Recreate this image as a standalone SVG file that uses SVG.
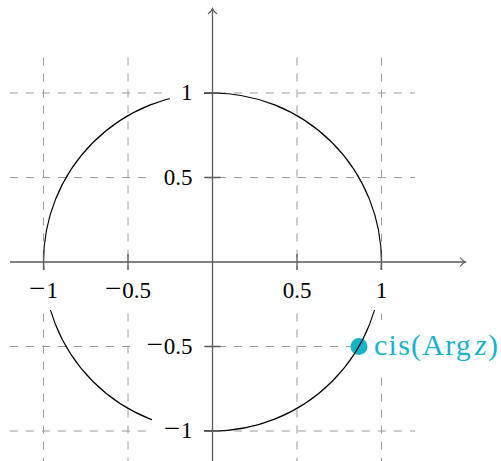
<svg xmlns="http://www.w3.org/2000/svg" width="501" height="461" viewBox="0 0 501 461">
<defs>
<style>
.grid{stroke:#9a9a9a;stroke-width:1;stroke-dasharray:8 8;fill:none}
.axis{stroke:#5a5a5a;stroke-width:1.3;fill:none}
.tick{stroke:#5a5a5a;stroke-width:1.3}
.curve{stroke:#000;stroke-width:1.1;fill:none}
.bg{fill:#fff}
.lbl{fill:#000;font-family:'Liberation Serif','Times New Roman',serif;font-size:23px}
.mn{font-size:29px}
.pt{fill:#17B3CB;font-family:'Liberation Serif','Times New Roman',serif;font-size:30px}
</style>
<marker id="arr" viewBox="-7 -6 9 12" markerWidth="9" markerHeight="12" refX="0" refY="0" orient="auto" markerUnits="userSpaceOnUse">
<path d="M -5.5 -4.5 C -3.5 -2 -1.5 -0.6 0 0 C -1.5 0.6 -3.5 2 -5.5 4.5" stroke="#5a5a5a" stroke-width="1.2" fill="none"/>
</marker>
</defs>
<rect width="501" height="461" fill="#fff"/>
<g id="grid">
<path class="grid" d="M10 93H415M10 177.5H415M10 346.5H415M10 431H415"/>
<path class="grid" d="M43.5 57.5V470M128 57.5V470M297 57.5V470M381.5 57.5V470"/>
</g>
<g id="point-label-bg">
<rect class="bg" x="364" y="320" width="137" height="50"/>
</g>
<g id="point">
<circle cx="359" cy="346.5" r="8.5" fill="#17B3CB"/>
</g>
<g id="unit-circle">
<circle class="curve" cx="212.5" cy="262" r="169"/>
</g>
<g id="y-labels">
<rect class="bg" x="170" y="80" width="34" height="26"/>
<text class="lbl" x="192.5" y="100" text-anchor="end">1</text>
<rect class="bg" x="151" y="164.5" width="53" height="26"/>
<text class="lbl" x="192.5" y="184.8" text-anchor="end">0.5</text>
<rect class="bg" x="134" y="333.5" width="70" height="26"/>
<text class="lbl" x="192.5" y="353.8" text-anchor="end"><tspan class="mn">−</tspan><tspan dx="1">0.5</tspan></text>
<rect class="bg" x="152" y="418" width="52" height="26"/>
<text class="lbl" x="192.5" y="438.3" text-anchor="end"><tspan class="mn">−</tspan><tspan dx="1">1</tspan></text>
</g>
<g id="x-labels">
<rect class="bg" x="18" y="270" width="52" height="40"/>
<text class="lbl" x="43.5" y="298" text-anchor="middle"><tspan class="mn">−</tspan><tspan dx="1">1</tspan></text>
<rect class="bg" x="93" y="270" width="70" height="40"/>
<text class="lbl" x="128" y="298" text-anchor="middle"><tspan class="mn">−</tspan><tspan dx="1">0.5</tspan></text>
<rect class="bg" x="270" y="270" width="54" height="40"/>
<text class="lbl" x="297" y="298" text-anchor="middle">0.5</text>
<rect class="bg" x="365" y="270" width="33" height="40"/>
<text class="lbl" x="381.5" y="298" text-anchor="middle">1</text>
</g>
<g id="axes">
<path class="axis" d="M10 262H465.5" marker-end="url(#arr)"/>
<path class="axis" d="M212.5 470V8.5" marker-end="url(#arr)"/>
<path class="tick" d="M43.5 254V270M128 254V270M297 254V270M381.5 254V270"/>
<path class="tick" d="M204.5 93H220.5M204.5 177.5H220.5M204.5 346.5H220.5M204.5 431H220.5"/>
</g>
<g id="point-label">
<text class="pt" x="374" y="355" textLength="124" lengthAdjust="spacing">cis(Arg<tspan font-style="italic" dx="3">z</tspan>)</text>
</g>
</svg>
